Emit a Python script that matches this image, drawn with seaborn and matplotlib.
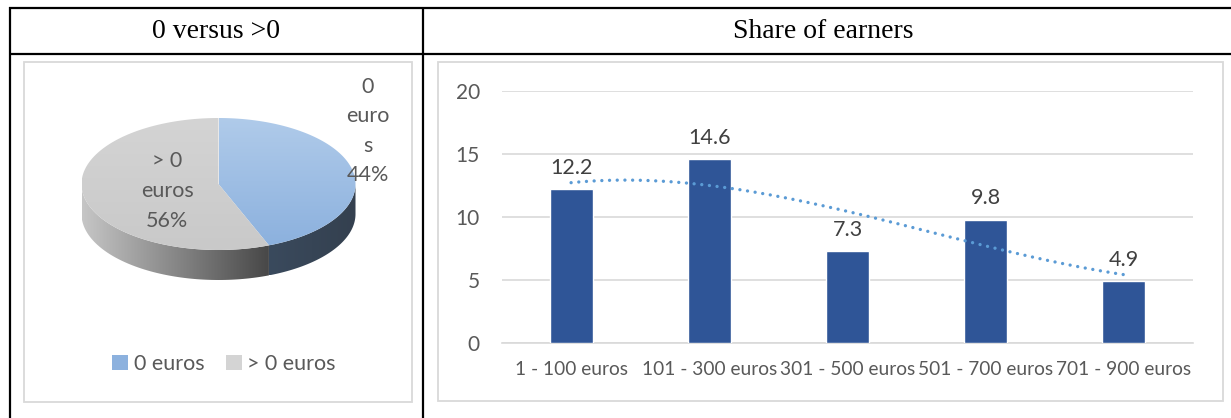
import numpy as np
import pandas as pd
import matplotlib
matplotlib.use("Agg")
import matplotlib.pyplot as plt
from matplotlib.patches import Polygon, Rectangle, Patch
import seaborn as sns

# ---------------- data ----------------
pie_labels = ["0 euros", "> 0 euros"]
pie_values = [44, 56]
pie_text = ["0\neuro\ns\n44%", "> 0\neuros\n56%"]

categories = ["1 - 100 euros", "101 - 300 euros", "301 - 500 euros",
              "501 - 700 euros", "701 - 900 euros"]
shares = [12.2, 14.6, 7.3, 9.8, 4.9]
yticks = [0, 5, 10, 15, 20]

header_left = "0 versus >0"
header_right = "Share of earners"

# ---------------- setup ----------------
sns.set_theme(style="white")
plt.rcParams['font.family'] = ['Lato', 'DejaVu Sans']

W, H = 1231, 418
fig = plt.figure(figsize=(W / 100, H / 100), dpi=100)

# background axes in pixel coordinates
bg = fig.add_axes([0, 0, 1, 1])
bg.set_xlim(0, W)
bg.set_ylim(H, 0)
bg.axis("off")

# table lines
tbl_kw = dict(color="black", lw=1.6, solid_capstyle="butt")
bg.plot([9, W], [7.5, 7.5], **tbl_kw)
bg.plot([9, W], [54, 54], **tbl_kw)
bg.plot([9.5, 9.5], [7, H], **tbl_kw)
bg.plot([423, 423], [7, H], **tbl_kw)

# header texts
serif = ['Liberation Serif', 'DejaVu Serif']
bg.text(216, 32, header_left, ha="center", va="center", fontsize=20,
        family=serif, color="black")
bg.text(823, 32, header_right, ha="center", va="center", fontsize=20,
        family=serif, color="black")

# chart frames
frame_col = "#d9d9d9"
bg.add_patch(Rectangle((24, 61.5), 388, 340.5, fill=False, ec=frame_col, lw=1.3))
bg.add_patch(Rectangle((438, 61.5), 785, 339.5, fill=False, ec=frame_col, lw=1.3))

# ---------------- 3D pie ----------------
cx, cy, rx, ry, depth = 218.5, 184, 137, 66, 30


def ell(t):
    t = np.radians(t)
    return cx + rx * np.cos(t), cy - ry * np.sin(t)


def gradient_fill(ax, poly_xy, c0, c1, direction="h", zorder=2):
    poly = Polygon(poly_xy, closed=True, fc="none", ec="none", zorder=zorder)
    ax.add_patch(poly)
    xs, ys = poly_xy[:, 0], poly_xy[:, 1]
    x0, x1, y0, y1 = xs.min(), xs.max(), ys.min(), ys.max()
    c0 = np.array(matplotlib.colors.to_rgb(c0))
    c1 = np.array(matplotlib.colors.to_rgb(c1))
    n = 256
    f = np.linspace(0, 1, n)
    cols = c0[None, :] * (1 - f[:, None]) + c1[None, :] * f[:, None]
    if direction == "h":
        img = np.repeat(cols[None, :, :], 2, axis=0)
    else:
        img = np.repeat(cols[:, None, :], 2, axis=1)
    im = ax.imshow(img, extent=(x0, x1, y1, y0), origin="upper",
                   aspect="auto", zorder=zorder, interpolation="bilinear")
    im.set_clip_path(poly)


fracs = np.array(pie_values) / np.sum(pie_values)
start = 90.0
top_cols = [("#b0cbea", "#8cb1de"), ("#d4d4d4", "#c9c9c9")]
side_cols = [("#3a4a5d", "#34404f"), ("#c6c6c6", "#474747")]
slices = []
for i, fr in enumerate(fracs):
    a1 = start
    a2 = start - fr * 360
    slices.append((a1, a2))
    start = a2

# sides (front half: angles between -180 and 0)
for i, (a1, a2) in enumerate(slices):
    lo, hi = a2, a1
    for shift in (0, 360, -360):
        l, h = lo + shift, hi + shift
        s0, s1 = max(l, -180), min(h, 0)
        if s1 > s0:
            ts = np.linspace(s1, s0, 120)
            top = np.array([ell(t) for t in ts])
            bot = top[::-1] + np.array([0, depth])
            poly = np.vstack([top, bot])
            gradient_fill(bg, poly, side_cols[i][0], side_cols[i][1], "h", zorder=2)

# top faces
for i, (a1, a2) in enumerate(slices):
    ts = np.linspace(a1, a2, 200)
    pts = np.array([ell(t) for t in ts])
    poly = np.vstack([[cx, cy], pts])
    gradient_fill(bg, poly, top_cols[i][0], top_cols[i][1], "v", zorder=3)

# slice labels
lab_col = "#595959"
bg.text(368, 131, pie_text[0], ha="center", va="center", fontsize=15.5,
        color=lab_col, linespacing=1.6, zorder=5)
bg.text(167, 191, pie_text[1], ha="center", va="center", fontsize=15.5,
        color=lab_col, linespacing=1.6, zorder=5)

# legend
handles = [Patch(fc=top_cols[0][1], ec="none"), Patch(fc=top_cols[1][0], ec="none")]
fig.legend(handles, pie_labels, loc="center", bbox_to_anchor=(224 / W, 1 - 364 / H),
           ncol=2, frameon=False, fontsize=15.5, labelcolor=lab_col,
           handlelength=0.75, handleheight=0.75, handletextpad=0.25,
           columnspacing=1.0)

# ---------------- bar chart ----------------
L, R, T, B = 502, 1193, 91, 343
ax = fig.add_axes([L / W, 1 - B / H, (R - L) / W, (B - T) / H])
df = pd.DataFrame({"cat": categories, "val": shares})
sns.barplot(data=df, x="cat", y="val", color="#2f5597", width=0.31,
            saturation=1, ax=ax, zorder=3)
ax.set_ylim(0, 20)
ax.set_xlim(-0.5, len(categories) - 0.5)
ax.set_yticks(yticks)
ax.set_yticklabels([str(v) for v in yticks])
ax.set_xlabel("")
ax.set_ylabel("")
ax.grid(axis="y", color="#d9d9d9", lw=1.2, zorder=0)
ax.set_axisbelow(True)
for s in ["top", "right", "left"]:
    ax.spines[s].set_visible(False)
ax.spines["bottom"].set_color("#d9d9d9")
ax.spines["bottom"].set_linewidth(1.2)
ax.tick_params(axis="y", length=0, pad=16, labelsize=15, labelcolor="#595959")
ax.tick_params(axis="x", length=0, pad=13, labelsize=13.8, labelcolor="#595959")
ax.patch.set_alpha(0)

for c in ax.containers:
    ax.bar_label(c, labels=[f"{v:.1f}" for v in shares], padding=8,
                 fontsize=15.5, color="#404040")

# polynomial (order 3) trendline
xpos = np.arange(1, len(shares) + 1)
coef = np.polyfit(xpos, shares, 3)
xs = np.linspace(1, len(shares), 200)
ax.plot(xs - 1, np.polyval(coef, xs), color="#5b9bd5", lw=2.4,
        linestyle=(0, (0.01, 2.3)), dash_capstyle="round", zorder=4)

fig.savefig("out.png", dpi=100)
